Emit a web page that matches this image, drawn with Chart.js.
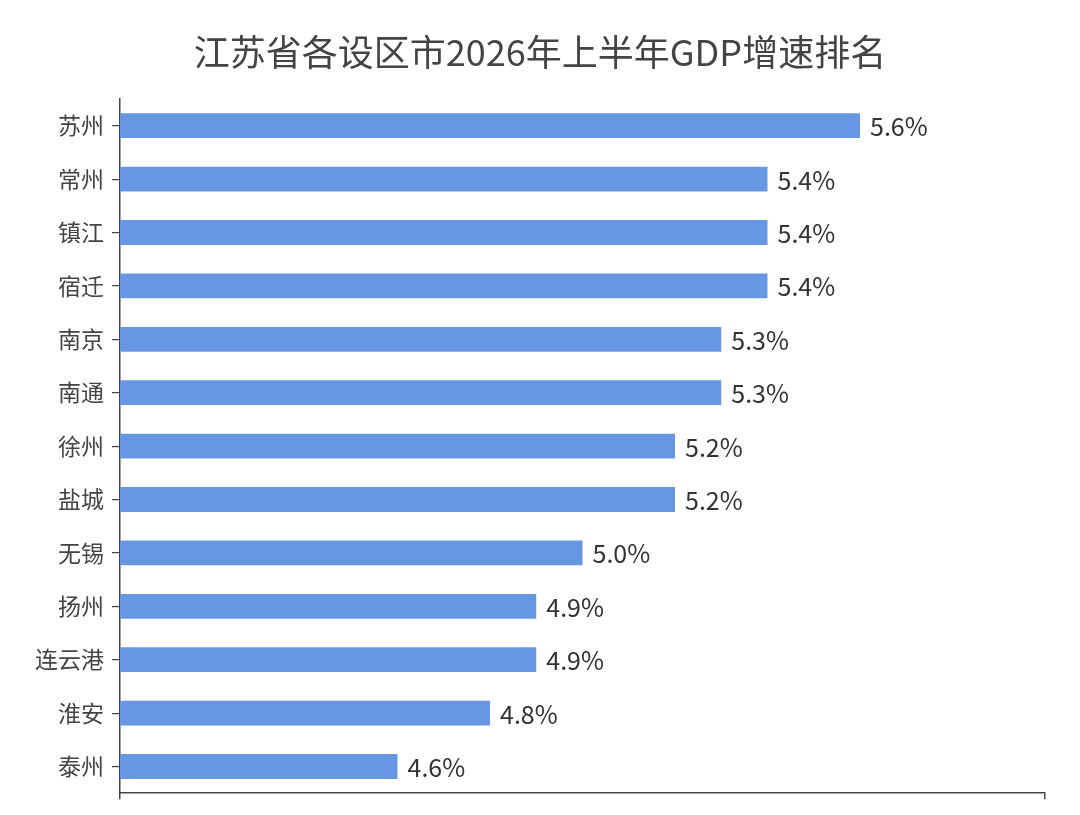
<!DOCTYPE html>
<html>
<head>
<meta charset="utf-8">
<script src="https://cdn.jsdelivr.net/npm/chart.js@4.4.1/dist/chart.umd.min.js"></script>
<style>
  html, body { margin: 0; padding: 0; background: #fff; overflow: hidden; }
  canvas { display: block; }
</style>
</head>
<body>
<canvas id="gdp-chart" width="1080" height="815"></canvas>
<script>
const cities = ['苏州', '常州', '镇江', '宿迁', '南京', '南通', '徐州', '盐城', '无锡', '扬州', '连云港', '淮安', '泰州'];
const growthRates = [5.6, 5.4, 5.4, 5.4, 5.3, 5.3, 5.2, 5.2, 5.0, 4.9, 4.9, 4.8, 4.6];
const chartTitle = '江苏省各设区市2026年上半年GDP增速排名';

const fontFamily = '"Noto Sans CJK SC", "Noto Sans", sans-serif';

// title centred on the whole canvas, not on the padded box
const pageTitle = {
  id: 'pageTitle',
  afterDraw(chart) {
    const ctx = chart.ctx;
    ctx.save();
    ctx.font = '36px ' + fontFamily;
    ctx.fillStyle = '#444444';
    ctx.textAlign = 'center';
    ctx.textBaseline = 'middle';
    ctx.fillText(chartTitle, chart.width / 2, 52);
    ctx.restore();
  },
};

// draws "5.6%" etc. right of every bar
const valueLabels = {
  id: 'valueLabels',
  afterDatasetsDraw(chart) {
    const ctx = chart.ctx;
    const meta = chart.getDatasetMeta(0);
    ctx.save();
    ctx.font = '25px ' + fontFamily;
    ctx.fillStyle = '#333333';
    ctx.textAlign = 'left';
    ctx.textBaseline = 'middle';
    meta.data.forEach((bar, i) => {
      const value = chart.data.datasets[0].data[i];
      ctx.fillText(value.toFixed(1) + '%', bar.x + 10, bar.y + 1);
    });
    ctx.restore();
  },
};

const gdpChart = new Chart(document.getElementById('gdp-chart'), {
  type: 'bar',
  data: {
    labels: cities,
    datasets: [
      {
        data: growthRates,
        backgroundColor: '#6797e3',
        borderWidth: 0,
        barPercentage: 0.465,
        categoryPercentage: 1,
      },
    ],
  },
  options: {
    indexAxis: 'y',
    responsive: false,
    animation: false,
    layout: {
      padding: { left: 0, right: 35, top: 99, bottom: 8 },
    },
    plugins: {
      legend: { display: false },
      tooltip: { enabled: false },
      title: { display: false },
    },
    scales: {
      x: {
        min: 4,
        max: 6,
        ticks: { display: false, stepSize: 2 },
        grid: { drawOnChartArea: false, drawTicks: true, tickLength: 6, color: '#444444', lineWidth: 1.5 },
        border: { color: '#444444', width: 1.5 },
        afterFit(scale) {
          scale.height = 6;
        },
      },
      y: {
        ticks: {
          color: '#444444',
          padding: 8,
          font: { family: fontFamily, size: 23 },
        },
        grid: { offset: false, drawOnChartArea: false, drawTicks: true, tickLength: 8, color: '#444444', lineWidth: 1.2 },
        border: { color: '#444444', width: 1.5 },
        afterFit(scale) {
          scale.width = 120;
        },
      },
    },
  },
  plugins: [valueLabels, pageTitle],
});
</script>
</body>
</html>
